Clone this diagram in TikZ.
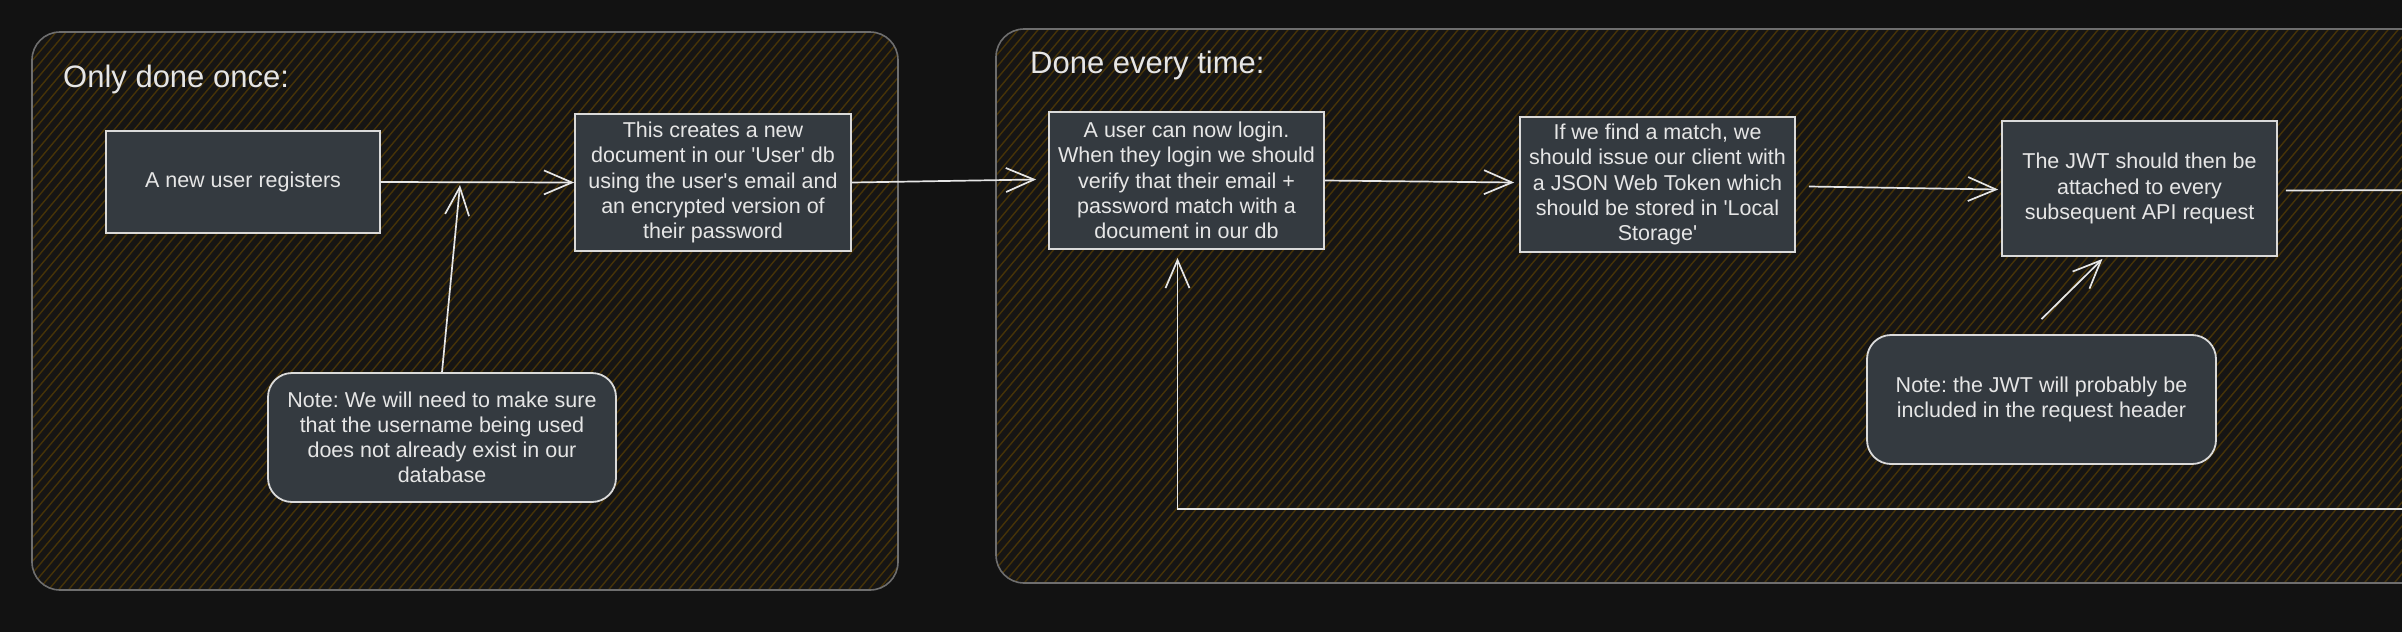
\documentclass[tikz,border=0pt]{standalone}
\usepackage{fontspec}
\setmainfont{Liberation Sans}
\usetikzlibrary{arrows.meta}

\definecolor{bgdark}{HTML}{121212}
\definecolor{paneldark}{HTML}{161514}
\definecolor{hatchbrown}{RGB}{70,51,8}
\definecolor{boxfill}{HTML}{343A40}
\definecolor{inkwhite}{HTML}{E6E6E6}
\definecolor{boxline}{HTML}{DADADA}
\definecolor{panelline}{HTML}{6E6E6E}

\newcommand{\boxfont}{\fontsize{21.5}{25.2}\selectfont}
\newcommand{\headfont}{\fontsize{31}{36}\selectfont}
\newcommand{\sq}{\textquotesingle}

\tikzset{
  stepbox/.style={draw=boxline, line width=1.8pt, fill=boxfill, text=inkwhite,
    align=center, inner sep=0pt, font=\boxfont},
  notebox/.style={stepbox, rounded corners=24pt},
  heading/.style={anchor=west, text=inkwhite, font=\headfont, inner sep=0pt},
  arr/.style={draw=inkwhite, line width=1.7pt,
    -{Straight Barb[length=28pt,width=24pt,line width=1.7pt]}},
  hatch/.style={draw=hatchbrown, line width=1.4pt},
  panel/.style={draw=panelline, line width=1.6pt, rounded corners=28pt},
}

\begin{document}
\frenchspacing
\begin{tikzpicture}[x=1pt,y=-1pt]
% canvas
\clip (0,0) rectangle (2402,632);
\fill[bgdark] (0,0) rectangle (2402,632);
% panels
\fill[paneldark, rounded corners=28pt] (32,32) rectangle (898,590);
\fill[paneldark, rounded corners=28pt] (996,29) rectangle (2460,583);
\begin{scope}
  \clip[rounded corners=28pt] (32,32) rectangle (898,590) (996,29) rectangle (2460,583);
  \foreach \i in {-600,-590,...,2400}
    \draw[hatch] (\i,600) -- +(503,-600);
\end{scope}
\draw[panel] (32,32) rectangle (898,590);
\draw[panel] (996,29) rectangle (2460,583);
\node[heading] (oncehead) at (63,79) {Only done once:};
\node[heading] (everyhead) at (1030,65) {Done every time:};

% only done once
\node[stepbox, minimum width=274pt, minimum height=102pt] (reg) at (243,182)
  {A new user registers};
\node[stepbox, minimum width=276pt, minimum height=137pt] (creates) at (713,182.5)
  {This creates a new\\document in our \sq User\sq{} db\\using the user\sq s email and\\an encrypted version of\\their password};
\node[notebox, minimum width=348pt, minimum height=129pt] (uniquenote) at (442,437.5)
  {Note: We will need to make sure\\that the username being used\\does not already exist in our\\database};

% done every time
\node[stepbox, minimum width=275pt, minimum height=137pt] (login) at (1186.5,180.5)
  {A user can now login.\\When they login we should\\verify that their email +\\password match with a\\document in our db};
\node[stepbox, minimum width=275pt, minimum height=135pt] (match) at (1657.5,184.5)
  {If we find a match, we\\should issue our client with\\a JSON Web Token which\\should be stored in \sq Local\\Storage\sq};
\node[stepbox, minimum width=275pt, minimum height=135pt] (jwt) at (2139.5,188.5)
  {The JWT should then be\\attached to every\\subsequent API request};
\node[notebox, minimum width=349pt, minimum height=129pt] (headernote) at (2041.5,399.5)
  {Note: the JWT will probably be\\included in the request header};

% connectors
\coordinate (join) at (460,185);
\coordinate (jwtout) at (2470,190);
\coordinate (loopin) at (2402,509);
\draw[arr] (reg.east) -- (creates.west);
\draw[arr] (uniquenote.north) -- (join);
\draw[arr] (creates.east) -- ([xshift=-12pt,yshift=1pt]login.west);
\draw[arr] (login.east) -- ([xshift=-5pt,yshift=2pt]match.west);
\draw[arr] ([xshift=13pt,yshift=-2pt]match.east) -- ([xshift=-3pt,yshift=-1pt]jwt.west);
\draw[arr] ([xshift=8pt,yshift=-2pt]jwt.east) -- (jwtout);
\draw[arr] ([yshift=15pt]headernote.north) -- ([xshift=-37pt,yshift=-2pt]jwt.south);
\draw[arr] (loopin) -| ([xshift=-9pt,yshift=-8pt]login.south);
\end{tikzpicture}
\end{document}
